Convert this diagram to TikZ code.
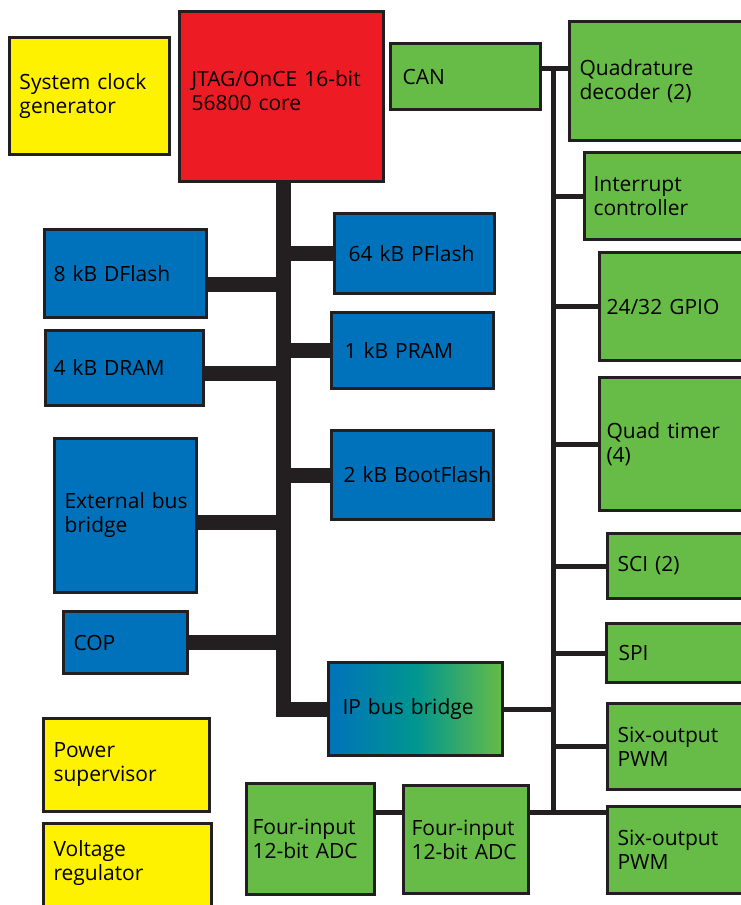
\documentclass[tikz,border=0pt]{standalone}
\usepackage{fontspec}
\setmainfont{Open Sans}
\usetikzlibrary{positioning}

\definecolor{coreRed}{HTML}{ED1C24}
\definecolor{clkYellow}{HTML}{FFF200}
\definecolor{memBlue}{HTML}{0072BC}
\definecolor{periGreen}{HTML}{66BC46}
\definecolor{bridgeTeal}{HTML}{00968F}
\definecolor{busBlack}{HTML}{231F20}

\begin{document}
\begin{tikzpicture}[x=1pt, y=-1pt]
  \tikzstyle{block} = [rectangle, draw=busBlack, line width=3, anchor=north west,
                       inner xsep=10, inner ysep=0, align=left,
                       font=\fontsize{21}{24}\selectfont]
  \tikzstyle{corebus} = [draw=busBlack, line width=15]
  \tikzstyle{periphbus} = [draw=busBlack, line width=5]
  \useasboundingbox (0,0) rectangle (741,905);
  % supply and clock
  \node[block, fill=clkYellow, minimum width=160, minimum height=117, text width=140]
    (sysclk) at (8,36) {System clock\\generator};
  \node[block, fill=clkYellow, minimum width=166, minimum height=93, text width=146]
    (power) at (42,717) {Power\\supervisor};
  \node[block, fill=clkYellow, minimum width=168, minimum height=95, text width=148]
    (vreg) at (42,822) {Voltage\\regulator\\[-4pt]\mbox{}};
  % core and memories
  \node[block, fill=coreRed, inner xsep=12, minimum width=204, minimum height=170,
        text width=180] (core) at (178,10) {JTAG/OnCE 16-bit\\56800 core\\[-12pt]\mbox{}};
  \node[block, fill=memBlue, inner xsep=14, minimum width=160, minimum height=80,
        text width=132] (pflash) at (333,212) {64 kB PFlash};
  \node[block, fill=memBlue, inner xsep=9, minimum width=162, minimum height=88,
        text width=144] (dflash) at (43,228) {8 kB DFlash};
  \node[block, fill=memBlue, inner xsep=8, minimum width=158, minimum height=75,
        text width=142] (dram) at (44,329) {4 kB DRAM};
  \node[block, fill=memBlue, inner xsep=13, minimum width=162, minimum height=76,
        text width=136] (pram) at (330,311) {1 kB PRAM};
  \node[block, fill=memBlue, minimum width=142, minimum height=154, text width=122]
    (extbus) at (53,437) {\mbox{External bus}\\bridge};
  \node[block, fill=memBlue, inner xsep=12, minimum width=162, minimum height=89,
        text width=138] (bootfl) at (330,429) {\mbox{2 kB BootFlash}};
  \node[block, fill=memBlue, minimum width=124, minimum height=62, text width=104]
    (cop) at (62,610) {COP};
  \node[block, left color=memBlue, right color=periGreen, middle color=bridgeTeal,
        inner xsep=14, minimum width=174, minimum height=93, text width=146]
    (ipbus) at (327,661) {IP bus bridge};
  % peripherals
  \node[block, fill=periGreen, inner xsep=12, minimum width=150, minimum height=66,
        text width=126] (can) at (389,42) {CAN};
  \node[block, fill=periGreen, minimum width=190, minimum height=119, text width=170]
    (quad) at (568,20) {Quadrature\\decoder (2)};
  \node[block, fill=periGreen, inner xsep=9, minimum width=175, minimum height=87,
        text width=157] (intc) at (583,151) {Interrupt\\controller};
  \node[block, fill=periGreen, inner xsep=7, minimum width=160, minimum height=108,
        text width=146] (gpio) at (598,251) {24/32 GPIO};
  \node[block, fill=periGreen, inner xsep=7, minimum width=160, minimum height=133,
        text width=146] (qtimer) at (598,376) {Quad timer\\(4)};
  \node[block, fill=periGreen, minimum width=152, minimum height=65, text width=132]
    (sci) at (606,532) {SCI (2)};
  \node[block, fill=periGreen, inner xsep=12, minimum width=153, minimum height=59,
        text width=129] (spi) at (605,622) {SPI};
  \node[block, fill=periGreen, minimum width=152, minimum height=86, text width=132]
    (pwmA) at (606,702) {Six-output\\PWM};
  \node[block, fill=periGreen, minimum width=152, minimum height=87, text width=132]
    (pwmB) at (606,805) {Six-output\\PWM};
  \node[block, fill=periGreen, inner xsep=6, minimum width=128, minimum height=111,
        text width=116] (adcL) at (245,782) {Four-input\\12-bit ADC};
  \node[block, fill=periGreen, inner xsep=8, minimum width=125, minimum height=108,
        text width=109] (adcR) at (402,784) {Four-input\\12-bit ADC};
  % core bus
  \coordinate (bus) at (283,0);
  \path[corebus] (core.south -| bus) |- (ipbus.west);
  \path[corebus] ([yshift=-11]dflash.east) -- ([yshift=-11]dflash.east -| bus);
  \path[corebus] ([yshift=-5]dram.east) -- ([yshift=-5]dram.east -| bus);
  \path[corebus] ([yshift=-7]extbus.east) -- ([yshift=-7]extbus.east -| bus);
  \path[corebus] (cop.east) -- (cop.east -| bus);
  \foreach \mem in {pflash,pram,bootfl}
    \path[corebus] (\mem.west -| bus) -- (\mem.west);
  % peripheral bus
  \coordinate (ptop) at (553,68);
  \coordinate (pbot) at (553,812);
  \path[periphbus] (can.east |- ptop) -- (quad.west |- ptop);
  \path[periphbus] (ptop) -- (pbot);
  \path[periphbus] (adcL.east |- pbot) -- (adcR.west |- pbot);
  \path[periphbus] (adcR.east |- pbot) -- (pwmB.west |- pbot);
  \path[periphbus] (ipbus.east) -- (ipbus.east -| pbot);
  \foreach \dev in {intc,gpio,qtimer,sci,spi,pwmA}
    \path[periphbus] (\dev.west -| pbot) -- (\dev.west);
\end{tikzpicture}
\end{document}
